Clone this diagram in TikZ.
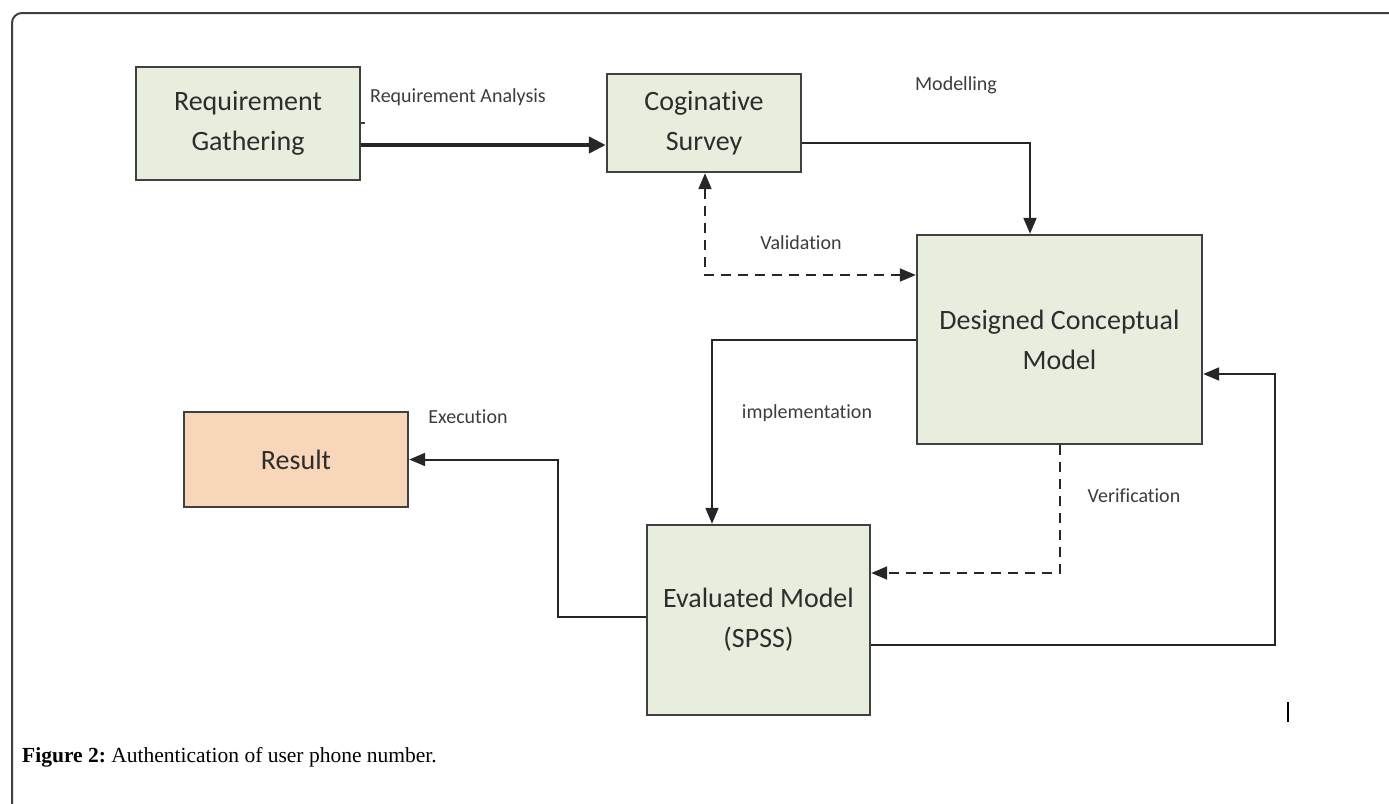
\documentclass[tikz,border=0pt]{standalone}
\usepackage{fontspec}
\setmainfont{Liberation Serif}
\newfontfamily\boxfont[Ligatures=NoCommon]{Carlito}
\usetikzlibrary{arrows.meta}
\definecolor{boxgreen}{RGB}{231,238,221}
\definecolor{boxpeach}{RGB}{248,214,186}
\definecolor{edgegray}{RGB}{64,64,64}
\definecolor{txtgray}{RGB}{45,45,45}
\definecolor{lblgray}{RGB}{60,60,60}
\tikzset{
  procbox/.style={draw=edgegray, line width=2.4pt, fill=boxgreen, inner sep=0pt,
    align=center, font=\boxfont\fontsize{28}{40}\selectfont, text=txtgray},
  lbl/.style={font=\boxfont\fontsize{20}{24}\selectfont, text=lblgray, inner sep=0pt},
  conn/.style={draw=black!85, line width=2pt, -{Triangle[length=16pt,width=13pt]}},
  dconn/.style={conn, dash pattern=on 10pt off 7pt},
}
\begin{document}
\begin{tikzpicture}[x=1pt,y=-1pt]
\useasboundingbox (0,0) rectangle (1389,803);
% frame
\draw[edgegray, line width=2pt, rounded corners=10pt] (1400,13) -- (12,13) -- (12,820);
% boxes
\node[procbox, minimum width=224pt, minimum height=113pt] (rg) at (248,123.5) {Requirement\\Gathering};
\node[procbox, minimum width=194pt, minimum height=98pt] (cs) at (704,123) {Coginative\\Survey};
\node[procbox, minimum width=285pt, minimum height=209pt] (dcm) at (1059.5,339.5) {Designed Conceptual\\Model};
\node[procbox, fill=boxpeach, minimum width=224pt, minimum height=95pt] (res) at (296,459.5) {Result};
\node[procbox, minimum width=223pt, minimum height=190pt] (ev) at (758.5,620) {Evaluated Model\\(SPSS)};
% helper coordinates
\coordinate (h1) at (0,145);
\coordinate (h2) at (1030,143);
\coordinate (v) at (705,275);
\coordinate (h3) at (712,340);
\coordinate (h4) at (1060,573);
\coordinate (h5) at (1275,645);
\coordinate (h6) at (1275,374);
\coordinate (h7) at (558,617);
\coordinate (h8) at (558,459.5);
\coordinate (st) at (0,123);
% connectors
\draw[conn, line width=4.5pt, -{Triangle[length=17pt,width=16pt]}] (rg.east |- h1) -- (cs.west |- h1);
\draw[conn] (cs.east |- h2) -- (h2) -- (dcm.north -| h2);
\draw[dconn, {Triangle[length=16pt,width=13pt]}-{Triangle[length=16pt,width=13pt]}] (cs.south -| v) -- (v) -- (dcm.west |- v);
\draw[conn] (dcm.west |- h3) -- (h3) -- (ev.north -| h3);
\draw[dconn] (dcm.south -| h4) -- (h4) -- (ev.east |- h4);
\draw[conn] (ev.east |- h5) -- (h5) -- (h6) -- (dcm.east |- h6);
\draw[conn] (ev.west |- h7) -- (h7) -- (h8) -- (res.east |- h8);
% small stub and tick
\draw[edgegray, line width=1.5pt] (rg.east |- st) -- ++(4,0);
\draw[black, line width=2pt] (1288,702) -- (1288,722);
% labels
\node[lbl] (la) at (458,97) {Requirement Analysis};
\node[lbl] (lm) at (956,85) {Modelling};
\node[lbl] (lv) at (801,243) {Validation};
\node[lbl] (li) at (807,413) {implementation};
\node[lbl] (lver) at (1134,496) {Verification};
\node[lbl] (lex) at (468,417) {Execution};
% caption
\node[anchor=west, font=\fontsize{21.5}{26}\selectfont, inner sep=0pt] (cap) at (22,757) {\textbf{Figure 2:}~Authentication of user phone number.};
\end{tikzpicture}
\end{document}
